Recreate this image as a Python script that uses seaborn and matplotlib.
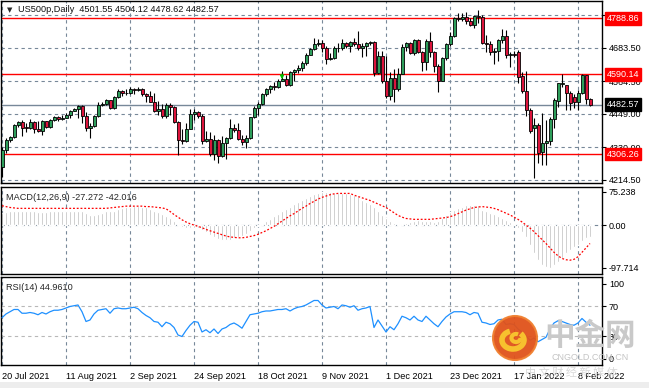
import numpy as np
import pandas as pd
import matplotlib.pyplot as plt
import seaborn as sns
from matplotlib.patches import Circle, Rectangle, Arc

# =====================================================
# DATA (US500p daily)
# =====================================================
opens = [4262, 4320, 4358, 4367, 4411, 4422, 4401, 4400, 4419, 4395,
         4387, 4423, 4402, 4429, 4437, 4432, 4436, 4447, 4460, 4468,
         4479, 4442, 4400, 4406, 4442, 4480, 4486, 4497, 4470, 4509,
         4529, 4523, 4524, 4537, 4535, 4537, 4520, 4514, 4493, 4459,
         4468, 4443, 4481, 4474, 4422, 4358, 4354, 4396, 4449, 4455,
         4443, 4352, 4360, 4308, 4357, 4300, 4346, 4363, 4399, 4391,
         4361, 4351, 4364, 4438, 4471, 4486, 4520, 4537, 4549, 4545,
         4567, 4575, 4552, 4597, 4605, 4613, 4631, 4660, 4680, 4697,
         4701, 4685, 4646, 4649, 4683, 4682, 4701, 4689, 4705, 4698,
         4682, 4690, 4701, 4705, 4595, 4655, 4567, 4513, 4577, 4538,
         4592, 4686, 4701, 4667, 4712, 4669, 4635, 4710, 4669, 4621,
         4568, 4649, 4697, 4725, 4791, 4786, 4793, 4778, 4766, 4797,
         4794, 4701, 4696, 4670, 4672, 4713, 4726, 4659, 4663, 4668,
         4584, 4531, 4463, 4398, 4410, 4315, 4347, 4354, 4430, 4496,
         4556, 4552, 4525, 4509, 4490, 4525, 4587, 4501.55]
highs = [4330, 4362, 4372, 4415, 4425, 4426, 4416, 4430, 4425, 4423,
         4426, 4425, 4431, 4442, 4442, 4447, 4452, 4462, 4470, 4482,
         4481, 4455, 4418, 4446, 4490, 4493, 4502, 4500, 4514, 4538,
         4536, 4538, 4546, 4543, 4544, 4540, 4524, 4530, 4522, 4494,
         4486, 4487, 4488, 4476, 4424, 4396, 4418, 4468, 4465, 4460,
         4450, 4388, 4384, 4375, 4360, 4370, 4366, 4430, 4414, 4416,
         4376, 4373, 4440, 4476, 4490, 4522, 4542, 4552, 4562, 4574,
         4600, 4588, 4600, 4610, 4622, 4638, 4666, 4685, 4718, 4716,
         4712, 4690, 4666, 4690, 4700, 4716, 4706, 4710, 4720, 4744,
         4703, 4704, 4710, 4708, 4674, 4672, 4655, 4597, 4610, 4614,
         4696, 4706, 4705, 4715, 4716, 4672, 4714, 4742, 4672, 4625,
         4652, 4700, 4742, 4793, 4808, 4808, 4810, 4790, 4800, 4818,
         4800, 4728, 4710, 4682, 4716, 4750, 4746, 4668, 4672, 4675,
         4599, 4603, 4472, 4435, 4416, 4452, 4428, 4438, 4505, 4560,
         4590, 4552, 4530, 4520, 4535, 4590, 4587, 4504.12]
lows = [4226, 4312, 4350, 4362, 4404, 4372, 4386, 4396, 4381, 4384,
        4374, 4398, 4400, 4425, 4423, 4429, 4434, 4434, 4458, 4436,
        4416, 4390, 4363, 4402, 4440, 4476, 4482, 4466, 4466, 4506,
        4514, 4518, 4520, 4520, 4530, 4512, 4490, 4491, 4455, 4444,
        4433, 4436, 4445, 4418, 4305, 4343, 4350, 4394, 4428, 4435,
        4344, 4348, 4300, 4286, 4276, 4295, 4288, 4360, 4384, 4358,
        4338, 4328, 4360, 4435, 4445, 4480, 4514, 4524, 4536, 4540,
        4565, 4550, 4548, 4565, 4594, 4602, 4622, 4658, 4678, 4690,
        4668, 4628, 4640, 4645, 4670, 4676, 4682, 4670, 4690, 4678,
        4650, 4656, 4695, 4583, 4590, 4560, 4505, 4500, 4492, 4530,
        4590, 4672, 4662, 4660, 4664, 4602, 4605, 4650, 4598, 4528,
        4565, 4640, 4692, 4722, 4780, 4779, 4770, 4762, 4756, 4772,
        4698, 4668, 4660, 4625, 4636, 4702, 4648, 4615, 4652, 4559,
        4525, 4442, 4380, 4222, 4274, 4268, 4268, 4340, 4400, 4475,
        4546, 4463, 4463, 4470, 4463, 4520, 4484, 4478.62]
closes = [4320, 4358, 4367, 4411, 4422, 4401, 4400, 4419, 4395, 4387,
          4423, 4402, 4429, 4437, 4432, 4436, 4447, 4460, 4468, 4479,
          4442, 4400, 4406, 4442, 4480, 4486, 4497, 4470, 4509, 4529,
          4523, 4524, 4537, 4535, 4537, 4520, 4514, 4493, 4459, 4468,
          4443, 4481, 4474, 4422, 4358, 4354, 4396, 4449, 4455, 4443,
          4352, 4360, 4308, 4357, 4300, 4346, 4363, 4399, 4391, 4361,
          4351, 4364, 4438, 4471, 4486, 4520, 4537, 4549, 4545, 4567,
          4575, 4552, 4597, 4605, 4613, 4631, 4660, 4680, 4697, 4701,
          4685, 4646, 4649, 4683, 4682, 4701, 4689, 4705, 4698, 4682,
          4690, 4701, 4705, 4595, 4655, 4567, 4513, 4577, 4538, 4592,
          4686, 4701, 4667, 4712, 4669, 4635, 4710, 4669, 4621, 4568,
          4649, 4697, 4725, 4791, 4786, 4793, 4778, 4766, 4797, 4794,
          4701, 4696, 4670, 4672, 4713, 4726, 4659, 4663, 4660, 4581,
          4530, 4462, 4390, 4410, 4310, 4346, 4354, 4431, 4497, 4558,
          4560, 4525, 4487, 4490, 4525, 4587, 4501, 4482.57]

macd_main = [28, 29, 31, 32, 33, 33, 32, 32, 31, 30, 30, 30, 31, 31, 31, 31,
             32, 32, 33, 33, 32, 28, 24, 23, 25, 28, 31, 31, 33, 36, 38, 40,
             42, 43, 43, 42, 40, 37, 33, 29, 25, 20, 15, 9, 2, -4, -6, -7,
             -6, -7, -12, -16, -22, -27, -31, -34, -35, -33, -30, -28, -25, -20, -14, -6,
             -2, 3, 9, 14, 20, 26, 32, 37, 42, 47, 52, 57, 62, 66, 70, 73,
             76, 76, 75, 74, 73, 72, 72, 71, 69, 65, 58, 53, 48, 40, 33, 24,
             17, 10, 5, 2, 3, 5, 8, 10, 11, 10, 9, 9, 7, 10, 16, 24,
             30, 34, 38, 42, 45, 46, 46, 45, 35, 32, 28, 25, 21, 17, 12, 8,
             3, -6, -15, -27, -45, -64, -80, -90, -96, -97, -92, -84, -74, -64, -56, -50,
             -45, -36, -30, -27.272]
macd_signal = [44, 42, 40, 39, 38, 38, 38, 38, 38, 38, 38, 38, 38, 38, 38, 38,
               38, 38, 38, 38, 38, 38, 38, 38, 38, 38, 38, 39, 40, 41, 42, 43,
               43, 43, 43, 43, 42, 42, 41, 40, 39, 37, 31, 24, 18, 12, 7, 3,
               0, -3, -6, -10, -13, -16, -19, -22, -25, -27, -28, -29, -29, -28, -26, -24,
               -21, -17, -13, -8, -3, 3, 9, 15, 21, 26, 32, 38, 43, 49, 54, 59,
               63, 66, 69, 71, 72, 72, 72, 72, 68, 65, 62, 59, 56, 52, 48, 44,
               40, 34, 28, 22, 18, 15, 14, 13, 13, 13, 13, 13, 14, 15, 16, 17,
               19, 22, 26, 30, 34, 37, 40, 41, 42, 41, 40, 38, 35, 31, 27, 23,
               18, 13, 7, 0, -7, -15, -24, -33, -42, -52, -62, -70, -76, -79, -80, -78,
               -72, -62, -52, -42.016]
rsi = [55, 60, 63, 66, 66, 61, 61, 62, 61, 59, 62, 60, 63, 65, 65, 66,
       68, 70, 71, 72, 63, 50, 52, 60, 65, 66, 67, 61, 67, 68, 67, 67,
       68, 69, 67, 62, 58, 55, 50, 49, 43, 49, 47, 42, 32, 30, 38, 45,
       50, 49, 36, 39, 35, 40, 34, 40, 42, 46, 48, 45, 41, 50, 59, 60,
       61, 63, 64, 64, 65, 66, 66, 67, 64, 67, 69, 70, 72, 75, 78, 78,
       72, 68, 69, 70, 67, 72, 71, 69, 71, 65, 67, 68, 70, 42, 52, 44,
       36, 43, 39, 47, 57, 55, 52, 57, 52, 50, 57, 52, 47, 43, 50, 56,
       60, 63, 63, 63, 62, 59, 62, 61, 49, 48, 46, 47, 52, 53, 46, 47,
       46, 40, 36, 31, 25, 28, 23, 26, 29, 40, 48, 51, 50, 48, 46, 45,
       48, 54, 49, 44.961]

date_labels = ["20 Jul 2021", "11 Aug 2021", "2 Sep 2021", "24 Sep 2021",
               "18 Oct 2021", "9 Nov 2021", "1 Dec 2021", "23 Dec 2021",
               "17 Jan 2022", "8 Feb 2022"]
label_bars = [0, 16, 32, 48, 64, 80, 96, 112, 128, 144]

price_ticks = [4214.50, 4330.00, 4449.00, 4564.50, 4683.50, 4799.00]
level_lines = [4788.86, 4590.14, 4306.26]
last_price = 4482.57

df = pd.DataFrame({"open": opens, "high": highs, "low": lows, "close": closes,
                   "macd": macd_main, "signal": macd_signal, "rsi": rsi})
df["bar"] = np.arange(len(df))

# =====================================================
# FIGURE SETUP
# =====================================================
sns.set_style("white")
plt.rcParams['font.family'] = ['Liberation Sans', 'DejaVu Sans']
plt.rcParams['font.size'] = 6.5

W, H = 649, 388
fig = plt.figure(figsize=(W / 100, H / 100), dpi=100)


def px_axes(x0, y0, x1, y1):
    return fig.add_axes([x0 / W, 1 - y1 / H, (x1 - x0) / W, (y1 - y0) / H])


ax1 = px_axes(0.5, 1, 602, 183)
ax2 = px_axes(0.5, 187, 602, 274)
ax3 = px_axes(0.5, 277, 602, 365)

grid_kw = dict(color='#778899', lw=0.8, ls=(0, (3, 3)), zorder=0)
xlim = (-0.375, 150)

for ax in (ax1, ax2, ax3):
    ax.set_xlim(*xlim)
    for b in label_bars:
        ax.axvline(b, **grid_kw)
    for s in ax.spines.values():
        s.set_color('black')
        s.set_linewidth(1.0)
    ax.yaxis.tick_right()
    ax.tick_params(axis='y', direction='out', length=3, width=0.8, pad=2,
                   labelsize=6.5, colors='black')
    ax.set_xticks([])

# =====================================================
# PRICE PANEL (candles)
# =====================================================
ax1.set_ylim(4203.8, 4850.5)
for v in price_ticks:
    ax1.axhline(v, **grid_kw)
ax1.set_yticks(price_ticks)
# top tick label sits under the 4788.86 marker in the terminal, so left blank
ax1.set_yticklabels([f"{v:.2f}" for v in price_ticks[:-1]] + [""])

up = df["close"] >= df["open"]
ax1.vlines(df["bar"], df["low"], df["high"], color='black', lw=0.8, zorder=3)
body = (df["close"] - df["open"]).abs().clip(lower=1.5)
bottom = df[["open", "close"]].min(axis=1)
ax1.bar(df["bar"][up], body[up], bottom=bottom[up], width=0.75,
        color='#2e9e5b', edgecolor='black', lw=0.6, zorder=4)
ax1.bar(df["bar"][~up], body[~up], bottom=bottom[~up], width=0.75,
        color='#dc143c', edgecolor='black', lw=0.6, zorder=4)

for lvl in level_lines:
    ax1.axhline(lvl, color='#ff0000', lw=1.0, zorder=2)
ax1.axhline(last_price, color='#778899', lw=1.0, zorder=2)

# green arrow marker
ax1.annotate('', xy=(70, 4562), xytext=(70, 4600),
             arrowprops=dict(arrowstyle='-|>', color='#00c000', lw=1.0,
                             mutation_scale=5), zorder=6)

for lvl in level_lines:
    ax1.annotate(f"{lvl:.2f}", xy=(1, lvl), xycoords=('axes fraction', 'data'),
                 xytext=(3.5, 0), textcoords='offset points', va='center', ha='left',
                 color='white', fontsize=6.5, annotation_clip=False, zorder=10,
                 bbox=dict(boxstyle='square,pad=0.2', fc='#ff0000', ec='#ff0000'))
ax1.annotate(f"{last_price:.2f}", xy=(1, last_price), xycoords=('axes fraction', 'data'),
             xytext=(3.5, 0), textcoords='offset points', va='center', ha='left',
             color='white', fontsize=6.5, annotation_clip=False, zorder=10,
             bbox=dict(boxstyle='square,pad=0.2', fc='black', ec='black'))

ax1.text(6 / 601, 1 - 9 / 182, "▼", transform=ax1.transAxes, fontsize=5,
         va='center', ha='left', family=['DejaVu Sans'])
ax1.text(17 / 601, 1 - 9 / 182, "US500p,Daily  4501.55 4504.12 4478.62 4482.57",
         transform=ax1.transAxes, fontsize=6.6, va='center', ha='left',
         color='#111111')

# =====================================================
# MACD PANEL
# =====================================================
ax2.set_ylim(-111.4, 86.6)
ax2.axhline(0, **grid_kw)
ax2.bar(df["bar"], df["macd"], width=0.3, color='#b4b4b4', zorder=2)
sns.lineplot(data=df, x="bar", y="signal", ax=ax2, color='red', lw=0.9,
             linestyle=(0, (1.5, 1.5)), zorder=3)
ax2.set_xlim(*xlim)
ax2.set_xlabel('')
ax2.set_ylabel('')
ax2.set_yticks([75.238, 0, -97.714])
ax2.set_yticklabels(["75.238", "0.00", "-97.714"])
ax2.text(5 / 601, 1 - 10 / 87, "MACD(12,26,9) -27.272 -42.016",
         transform=ax2.transAxes, fontsize=6.6, va='center', ha='left')

# =====================================================
# RSI PANEL
# =====================================================
ax3.set_ylim(-8, 109.3)
for lv in (30, 70):
    ax3.axhline(lv, color='#b8b8b8', lw=0.8, ls=(0, (3, 3)), zorder=0)
sns.lineplot(data=df, x="bar", y="rsi", ax=ax3, color='#1e90ff', lw=0.9, zorder=3)
ax3.set_xlim(*xlim)
ax3.set_xlabel('')
ax3.set_ylabel('')
ax3.set_yticks([100, 70, 30, 0])
ax3.set_yticklabels(["100", "70", "30", "0"])
ax3.set_xticks(label_bars)
ax3.set_xticklabels(date_labels, ha='left')
ax3.tick_params(axis='x', direction='out', length=3, width=0.8, pad=2,
                labelsize=6.6, colors='black')
ax3.text(5 / 601, 1 - 10 / 88, "RSI(14) 44.9610",
         transform=ax3.transAxes, fontsize=6.6, va='center', ha='left')

# =====================================================
# WATERMARK OVERLAY
# =====================================================
axw = fig.add_axes([0, 0, 1, 1], zorder=20)
axw.set_xlim(0, W)
axw.set_ylim(H, 0)
axw.axis('off')
axw.patch.set_alpha(0)
axw.add_patch(Rectangle((0, 382), W, 6, fc='#ededed', ec='none'))
axw.add_patch(Circle((515, 338), 22, fc='#e0521a', ec='#f08030', lw=1.5, alpha=0.95))
axw.add_patch(Arc((513, 340), 22, 18, theta1=-40, theta2=250, color='#f7c12e', lw=4))
axw.add_patch(Arc((516, 338), 9, 8, theta1=0, theta2=300, color='#f7c12e', lw=3))
axw.text(590, 336, "中金网", fontsize=22, color='#c9c9c9', ha='center', va='center',
         family=['Noto Sans CJK SC', 'DejaVu Sans'], fontweight='bold')
axw.text(590, 357, "CNGOLD.COM.CN", fontsize=6.5, color='#c4c4c4', ha='center',
         va='center')
axw.text(571, 372, "中 文 财 经 新 媒 体", fontsize=8, color='#dadada', ha='center',
         va='center', family=['Noto Sans CJK SC', 'DejaVu Sans'])

fig.savefig("out.png", dpi=100)
